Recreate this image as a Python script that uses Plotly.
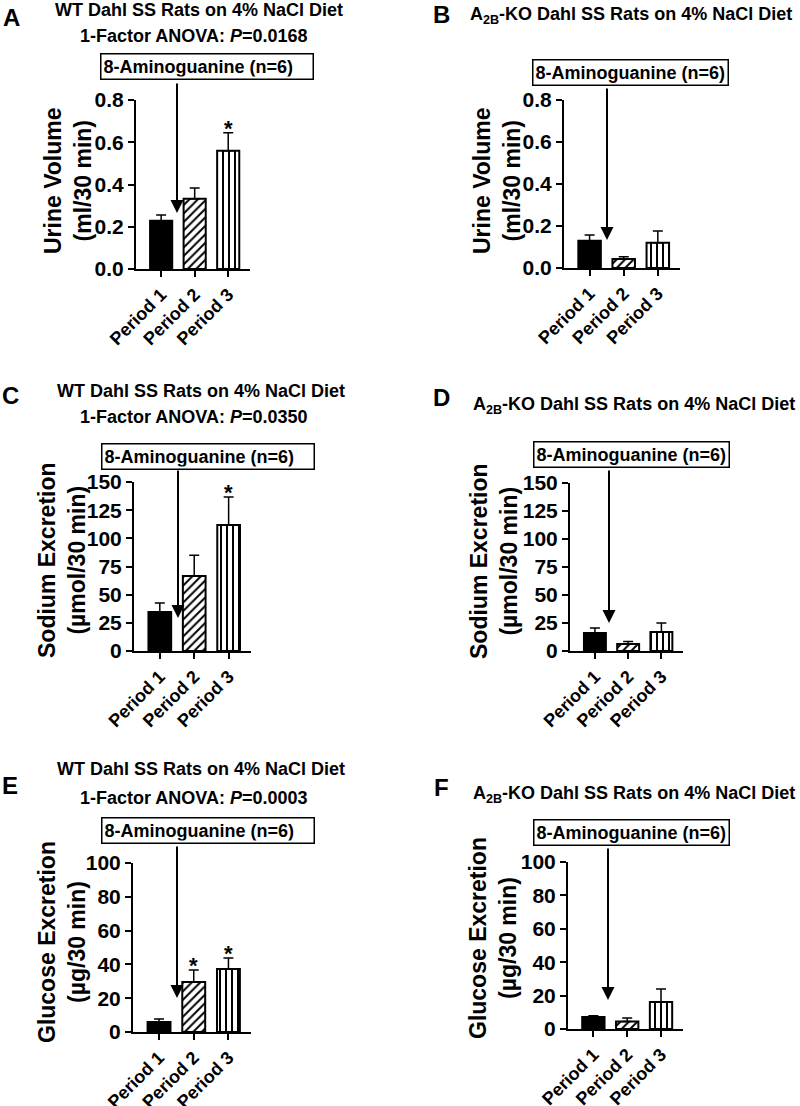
import plotly.graph_objects as go

W, H = 800, 1106

categories = ["Period 1", "Period 2", "Period 3"]

urine_wt = [0.228, 0.332, 0.560]
urine_wt_sem = [0.028, 0.052, 0.085]
urine_ko = [0.130, 0.043, 0.120]
urine_ko_sem = [0.027, 0.010, 0.056]

sodium_wt = [34.6, 66.6, 111.8]
sodium_wt_sem = [8.0, 18.4, 24.9]
sodium_ko = [16.0, 6.3, 17.0]
sodium_ko_sem = [4.5, 2.2, 8.0]

glucose_wt = [5.9, 29.6, 37.3]
glucose_wt_sem = [1.8, 7.1, 6.5]
glucose_ko = [7.2, 4.5, 16.2]
glucose_ko_sem = [0.8, 2.1, 7.7]

stars_urine_wt = [False, False, True]
stars_sodium_wt = [False, False, True]
stars_glucose_wt = [False, True, True]
no_stars = [False, False, False]

wt_title = "WT Dahl SS Rats on 4% NaCl Diet"
ko_title = "A<sub>2B</sub>-KO Dahl SS Rats on 4% NaCl Diet"
anova = ["1-Factor ANOVA: <i>P</i>=0.0168",
         "1-Factor ANOVA: <i>P</i>=0.0350",
         "1-Factor ANOVA: <i>P</i>=0.0003"]
box_text = "8-Aminoguanine (n=6)"
ytitles = ["Urine Volume<br>(ml/30 min)",
           "Sodium Excretion<br>(µmol/30 min)",
           "Glucose Excretion<br>(µg/30 min)"]

FONT = "Arial, Liberation Sans, sans-serif"

bar_colors = ["black", "white", "white"]
bar_patterns = ["", "/", "|"]


def px(x):
    return x / W


def py(y):
    return 1 - y / H


panels = [
    dict(letter="A", vals=urine_wt, sem=urine_wt_sem, stars=stars_urine_wt,
         xd=(136, 250), yd=(100, 269), ymax=0.8, dt=0.2, fmt=".1f", yt=0,
         letter_pos=(11, 17), title=wt_title, title_pos=(53, 10), anova=anova[0], anova_pos=(78, 36),
         box=(207, 67), boxw=207, box_bottom=82, tip=(177, 213), ytitle_pos=(68, 181)),
    dict(letter="B", vals=urine_ko, sem=urine_ko_sem, stars=no_stars,
         xd=(564, 680), yd=(100, 268), ymax=0.8, dt=0.2, fmt=".1f", yt=0,
         letter_pos=(441, 15), title=ko_title, title_pos=(468, 16), anova=None, anova_pos=None,
         box=(630, 72), boxw=None, box_bottom=87, tip=(607, 240), ytitle_pos=(497, 181)),
    dict(letter="C", vals=sodium_wt, sem=sodium_wt_sem, stars=stars_sodium_wt,
         xd=(134, 251), yd=(482, 651), ymax=150, dt=25, fmt="d", yt=1,
         letter_pos=(10, 395), title=wt_title, title_pos=(55, 391), anova=anova[1], anova_pos=(78, 417),
         box=(208, 456), boxw=207, box_bottom=469, tip=(178, 618), ytitle_pos=(62, 560)),
    dict(letter="D", vals=sodium_ko, sem=sodium_ko_sem, stars=no_stars,
         xd=(570, 683), yd=(483, 651), ymax=150, dt=25, fmt="d", yt=1,
         letter_pos=(441, 397), title=ko_title, title_pos=(471, 406), anova=None, anova_pos=None,
         box=(631, 455), boxw=None, box_bottom=469, tip=(609, 623), ytitle_pos=(494, 561)),
    dict(letter="E", vals=glucose_wt, sem=glucose_wt_sem, stars=stars_glucose_wt,
         xd=(133, 251), yd=(863, 1032), ymax=100, dt=20, fmt="d", yt=2,
         letter_pos=(10, 785), title=wt_title, title_pos=(55, 769), anova=anova[2], anova_pos=(78, 798),
         box=(208, 830), boxw=207, box_bottom=845, tip=(177, 998), ytitle_pos=(62, 942)),
    dict(letter="F", vals=glucose_ko, sem=glucose_ko_sem, stars=no_stars,
         xd=(568, 683), yd=(862, 1029), ymax=100, dt=20, fmt="d", yt=2,
         letter_pos=(441, 787), title=ko_title, title_pos=(471, 794), anova=None, anova_pos=None,
         box=(631, 832), boxw=None, box_bottom=847, tip=(608, 1000), ytitle_pos=(493, 938)),
]

fig = go.Figure()
annotations = []
layout_axes = {}

for i, p in enumerate(panels):
    n = i + 1
    xa = "x" if n == 1 else f"x{n}"
    ya = "y" if n == 1 else f"y{n}"
    xpos = [1, 2, 3]
    for j in range(3):
        fig.add_trace(go.Bar(
            x=[xpos[j]], y=[p["vals"][j]], width=0.66,
            xaxis=xa, yaxis=ya,
            marker=dict(color=bar_colors[j],
                        line=dict(color="black", width=2),
                        pattern=dict(shape=bar_patterns[j], fgcolor="black", bgcolor="white",
                                     size=6, solidity=0.33, fillmode="replace")),
            error_y=dict(type="data", array=[p["sem"][j]], arrayminus=[0], symmetric=False,
                         color="black", thickness=1.5, width=5),
            showlegend=False, hoverinfo="skip",
        ))
    xkey = "xaxis" if n == 1 else f"xaxis{n}"
    ykey = "yaxis" if n == 1 else f"yaxis{n}"
    layout_axes[xkey] = dict(
        domain=[px(p["xd"][0]), px(p["xd"][1])], anchor=ya, automargin=False,
        range=[0.25, 3.65], tickvals=xpos, ticktext=categories, tickangle=-45,
        showline=True, linecolor="black", linewidth=2, ticks="outside", ticklen=6,
        tickwidth=2, tickcolor="black", showgrid=False, zeroline=False,
        tickfont=dict(family=FONT, size=18, color="black", weight="bold"))
    layout_axes[ykey] = dict(
        domain=[py(p["yd"][1]), py(p["yd"][0])], anchor=xa, automargin=False,
        range=[0, p["ymax"]], dtick=p["dt"], tick0=0, tickformat=p["fmt"],
        showline=True, linecolor="black", linewidth=2, ticks="outside", ticklen=6,
        tickwidth=2, tickcolor="black", showgrid=False, zeroline=False,
        tickfont=dict(family=FONT, size=21, color="black", weight="bold"))

    for j, s in enumerate(p["stars"]):
        if s:
            annotations.append(dict(
                x=xpos[j], y=p["vals"][j] + p["sem"][j], xref=xa, yref=ya,
                text="*", showarrow=False, yanchor="middle", yshift=4,
                font=dict(family=FONT, size=22, color="black", weight="bold")))

    annotations.append(dict(
        x=px(p["letter_pos"][0]), y=py(p["letter_pos"][1]), xref="paper", yref="paper",
        text=p["letter"], showarrow=False, xanchor="center", yanchor="middle",
        font=dict(family=FONT, size=24, color="black", weight="bold")))
    annotations.append(dict(
        x=px(p["title_pos"][0]), y=py(p["title_pos"][1]), xref="paper", yref="paper",
        text=p["title"], showarrow=False, xanchor="left", yanchor="middle",
        font=dict(family=FONT, size=18, color="black", weight="bold")))
    if p["anova"]:
        annotations.append(dict(
            x=px(p["anova_pos"][0]), y=py(p["anova_pos"][1]), xref="paper", yref="paper",
            text=p["anova"], showarrow=False, xanchor="left", yanchor="middle",
            font=dict(family=FONT, size=18, color="black", weight="bold")))
    box = dict(
        x=px(p["box"][0]), y=py(p["box"][1]), xref="paper", yref="paper",
        text=box_text, showarrow=False, xanchor="center", yanchor="middle",
        bordercolor="black", borderwidth=1.5, borderpad=2, bgcolor="white",
        font=dict(family=FONT, size=18, color="black", weight="bold"))
    if p["boxw"]:
        box["width"] = p["boxw"]
        box["align"] = "left"
    annotations.append(box)
    annotations.append(dict(
        x=px(p["tip"][0]), y=py(p["tip"][1]), xref="paper", yref="paper",
        ax=0, ay=-(p["tip"][1] - p["box_bottom"]), axref="pixel", ayref="pixel",
        text="", showarrow=True, arrowhead=2, arrowsize=1.3, arrowwidth=2,
        arrowcolor="black", standoff=0, startstandoff=0))
    annotations.append(dict(
        x=px(p["ytitle_pos"][0]), y=py(p["ytitle_pos"][1]), xref="paper", yref="paper",
        text=ytitles[p["yt"]], showarrow=False, textangle=-90,
        xanchor="center", yanchor="middle",
        font=dict(family=FONT, size=23, color="black", weight="bold")))

fig.update_layout(
    width=W, height=H,
    margin=dict(l=0, r=0, t=0, b=0, autoexpand=False),
    paper_bgcolor="white", plot_bgcolor="white",
    annotations=annotations,
    barmode="overlay",
    hovermode=False,
    **layout_axes,
)

# remove the default 8px page margin so the figure fills the window exactly
fig.write_html("out.html",
               config={"displayModeBar": False},
               post_script="document.body.style.margin='0';document.body.style.overflow='hidden';")
